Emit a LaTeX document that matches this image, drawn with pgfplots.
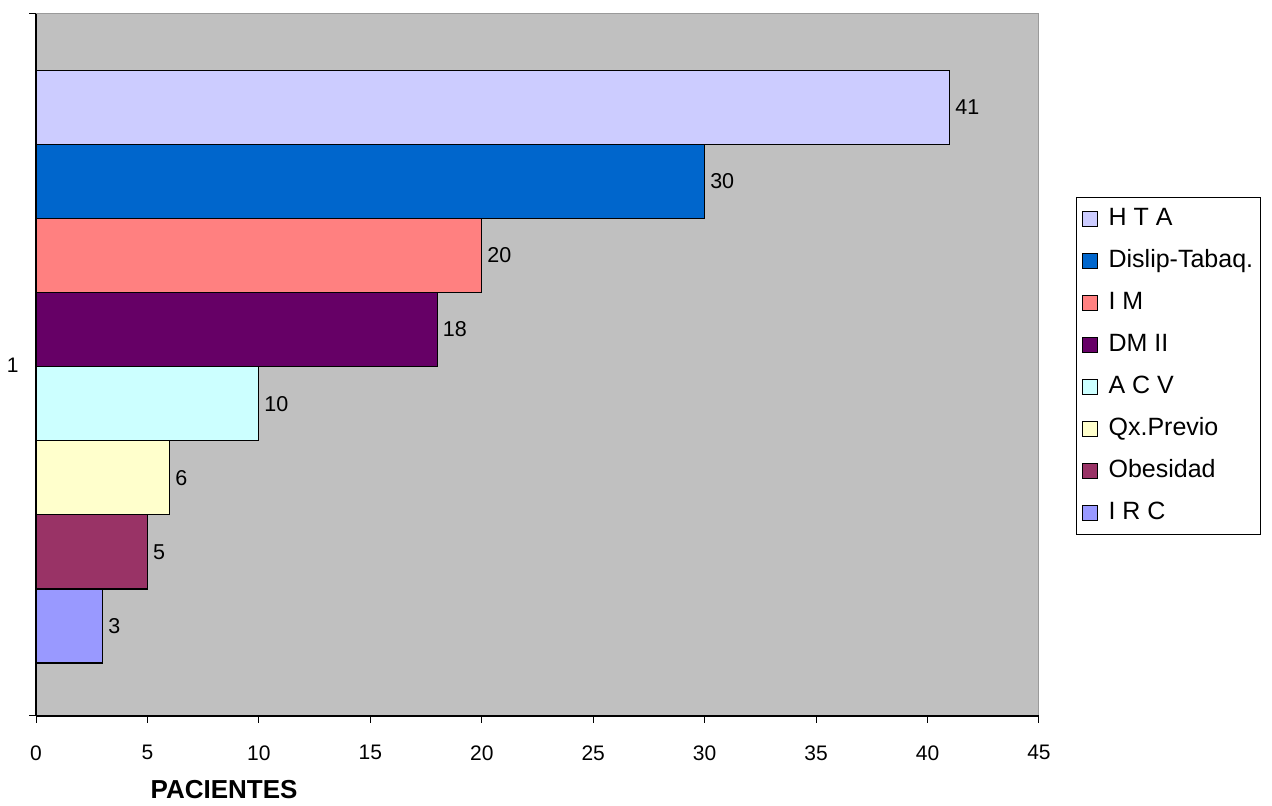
\documentclass[border=0pt]{standalone}
\usepackage{fontspec}
\setmainfont{Liberation Sans}
\usepackage{pgfplots}
\pgfplotsset{compat=1.18}
\definecolor{bg}{HTML}{C0C0C0}
\definecolor{frame}{HTML}{9A9A9A}
\definecolor{cHTA}{HTML}{CCCCFF}
\definecolor{cDT}{HTML}{0066CC}
\definecolor{cIM}{HTML}{FF8080}
\definecolor{cDM}{HTML}{660066}
\definecolor{cACV}{HTML}{CCFFFF}
\definecolor{cQx}{HTML}{FFFFCC}
\definecolor{cOb}{HTML}{993366}
\definecolor{cIRC}{HTML}{9999FF}
\begin{document}
\begin{tikzpicture}[x=1pt,y=1pt]
\useasboundingbox (0,0) rectangle (1272,806);
\begin{axis}[
  at={(36pt,90pt)}, anchor=south west,
  scale only axis, width=1003pt, height=702pt,
  xmin=0, xmax=45, ymin=0, ymax=9.474,
  xbar, bar width=1, bar shift=0pt,
  axis background/.style={fill=bg, draw=frame, line width=1pt},
  axis x line*=bottom, axis y line*=left,
  axis line style={black, line width=1.3pt, -},
  tick align=outside, major tick length=7pt,
  tick style={black, line width=1pt},
  xtick={0,5,...,45},
  ytick={0,9.474}, yticklabels={},
  extra y ticks={4.737}, extra y tick labels={1},
  extra y tick style={major tick length=0pt, yticklabel style={xshift=-14pt}},
  /pgf/number format/assume math mode=true,
  ticklabel style={font=\fontsize{21}{24}\selectfont},
  xticklabel style={yshift=-19pt},
  point meta=x,
  nodes near coords,
  nodes near coords style={font=\fontsize{21.5}{24}\selectfont, anchor=west, inner sep=0pt, xshift=5pt, black},
  xlabel={PACIENTES},
  xlabel style={at={(axis description cs:0.1875,0)}, anchor=center, yshift=-74pt, font=\fontsize{26}{30}\selectfont\bfseries},
  legend cell align=left,
  legend style={at={(1.0369,0.7393)}, anchor=north west, draw=black, line width=1pt, fill=white,
    font=\fontsize{25}{29}\selectfont, row sep=15pt,
    nodes={text height=18pt, text depth=5pt, inner sep=2pt}, inner xsep=5pt, inner ysep=8pt},
  legend image code/.code={\draw[#1, draw=black, line width=1pt] (0pt,-7.5pt) rectangle (15pt,7.5pt); \path (24pt,0pt);},
]
\addplot[fill=cHTA, draw=black, line width=1.2pt] coordinates {(41,8.215)};
\addlegendentry{H T A}
\addplot[fill=cDT, draw=black, line width=1.2pt] coordinates {(30,7.215)};
\addlegendentry{Dislip-Tabaq.}
\addplot[fill=cIM, draw=black, line width=1.2pt] coordinates {(20,6.215)};
\addlegendentry{I M}
\addplot[fill=cDM, draw=black, line width=1.2pt] coordinates {(18,5.215)};
\addlegendentry{DM II}
\addplot[fill=cACV, draw=black, line width=1.2pt] coordinates {(10,4.215)};
\addlegendentry{A C V}
\addplot[fill=cQx, draw=black, line width=1.2pt] coordinates {(6,3.215)};
\addlegendentry{Qx.Previo}
\addplot[fill=cOb, draw=black, line width=1.2pt] coordinates {(5,2.215)};
\addlegendentry{Obesidad}
\addplot[fill=cIRC, draw=black, line width=1.2pt] coordinates {(3,1.215)};
\addlegendentry{I R C}
\end{axis}
\end{tikzpicture}
\end{document}
